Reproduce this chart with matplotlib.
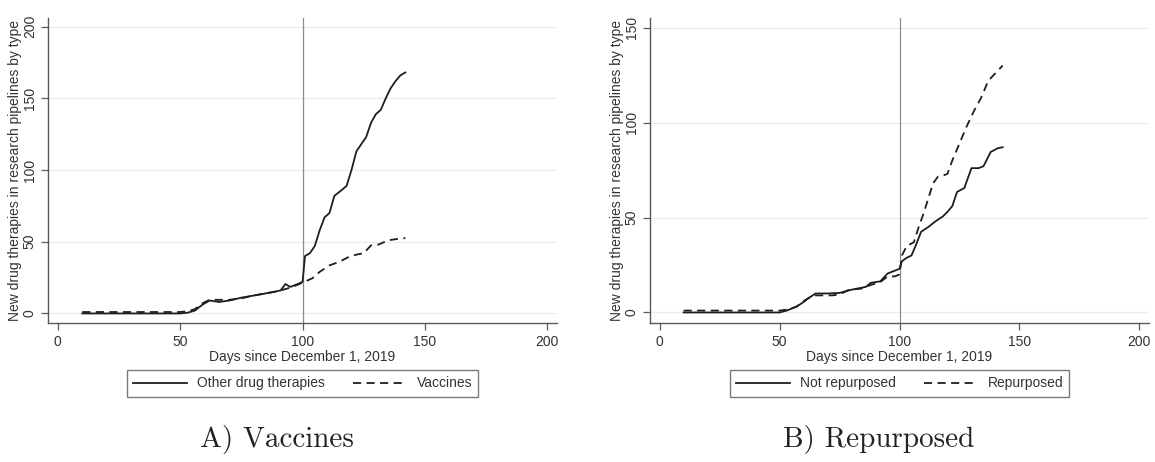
import matplotlib
matplotlib.use("Agg")
import matplotlib.pyplot as plt

# ---------------- data ----------------
# Panel A: Vaccines
other_days = [10, 20, 30, 40, 50, 53, 56, 59, 62, 66, 70, 75, 80, 85, 88, 91, 93, 95, 98, 100,
              101, 103, 105, 107, 109, 111, 113, 116, 118, 120, 122, 124, 126, 128, 130, 132,
              134, 136, 138, 140, 142]
other_vals = [0, 0, 0, 0, 0, 0.5, 2, 6, 9, 8, 9, 11, 12.5, 14, 15, 16, 20.5, 18.5, 20.5, 22,
              40, 42, 47, 58, 67, 70, 82, 86, 89, 100, 113, 118, 123, 133, 139, 142,
              150, 157, 162, 166, 168]
vacc_days = [10, 20, 30, 40, 50, 53, 56, 59, 62, 65, 70, 75, 80, 85, 90, 95, 98, 100, 102, 104,
             107, 111, 115, 119, 122, 125, 128, 131, 135, 139, 142]
vacc_vals = [1, 1, 1, 1, 1, 1.5, 3, 7, 9.5, 9.5, 9.5, 10.5, 12.5, 14, 15.5, 18, 20, 21.5, 23, 24.5,
             29, 33.5, 36, 39.5, 41, 42, 47.5, 48, 51, 52, 52.5]

# Panel B: Repurposed
notrep_days = [10, 20, 30, 40, 50, 53, 57, 60, 62, 65, 70, 75, 80, 86, 88, 92, 95, 97, 100, 101,
               103, 105, 107, 109, 112, 115, 118, 120, 122, 124, 127, 130, 133, 135, 138, 141, 143]
notrep_vals = [0, 0, 0, 0, 0, 1, 3, 5.5, 7.5, 10, 10, 10.3, 12, 13.5, 15.6, 16.4, 20.5, 21.5, 23, 27,
               28.8, 30, 36, 42.5, 45, 48, 50.5, 53, 56, 63.5, 65.5, 76, 76, 77, 84.5, 86.5, 87]
rep_days = [10, 20, 30, 40, 50, 53, 57, 60, 64, 68, 72, 75, 79, 84, 88, 92, 95, 98, 100, 101,
            103, 106, 108, 110, 112, 114, 116, 118, 120, 122, 125, 128, 131, 134, 137, 140, 143]
rep_vals = [1, 1, 1, 1, 1, 1.5, 3, 6, 9, 9, 9, 9.5, 12, 12.5, 14.5, 16, 19, 19, 20, 30,
            35, 37, 45, 52, 60, 68, 71.5, 72, 73, 80, 89, 98, 106, 113, 122, 126, 130]

xticks = [0, 50, 100, 150, 200]
yticks_a = [0, 50, 100, 150, 200]
yticks_b = [0, 50, 100, 150]

xlabel = "Days since December 1, 2019"
ylabel = "New drug therapies in research pipelines by type"

# ---------------- plot ----------------
plt.rcParams['font.family'] = ['Liberation Sans', 'DejaVu Sans']

fig = plt.figure(figsize=(11.55, 4.62), dpi=100)
ax1 = fig.add_axes([0.0416, 0.2998, 0.4407, 0.6623])
ax2 = fig.add_axes([0.5628, 0.2998, 0.4320, 0.6623])

line_c = '#1e1e1e'
axis_c = '#5a5a5a'

def style(ax, yticks, ylim):
    ax.set_xlim(-4, 204)
    ax.set_ylim(*ylim)
    ax.set_xticks(xticks)
    ax.set_yticks(yticks)
    for s in ['top', 'right']:
        ax.spines[s].set_visible(False)
    for s in ['left', 'bottom']:
        ax.spines[s].set_color(axis_c)
        ax.spines[s].set_linewidth(1.0)
    ax.tick_params(axis='both', direction='out', length=5, width=0.9, color=axis_c,
                   labelsize=10, labelcolor='#333333', pad=3)
    for lab in ax.get_yticklabels():
        lab.set_rotation(90)
        lab.set_va('center')
    ax.yaxis.grid(True, color='#ececec', linewidth=0.9)
    ax.set_axisbelow(True)
    ax.axvline(100, color='#8c8c8c', linewidth=0.9, zorder=1)
    ax.set_xlabel(xlabel, fontsize=10, color='#333333', labelpad=1)
    ax.set_ylabel(ylabel, fontsize=10, color='#333333', labelpad=1)

style(ax1, yticks_a, (-7, 206.3))
style(ax2, yticks_b, (-5.8, 155.3))

ax1.plot(other_days, other_vals, color=line_c, lw=1.3, label='Other drug therapies', zorder=3)
ax1.plot(vacc_days, vacc_vals, color=line_c, lw=1.3, ls=(0, (4.5, 3)), label='Vaccines', zorder=3)
ax2.plot(notrep_days, notrep_vals, color=line_c, lw=1.3, label='Not repurposed', zorder=3)
ax2.plot(rep_days, rep_vals, color=line_c, lw=1.3, ls=(0, (4.5, 3)), label='Repurposed', zorder=3)

for ax in (ax1, ax2):
    leg = ax.legend(loc='upper center', bbox_to_anchor=(0.5, -0.13), ncol=2, frameon=True,
                    fancybox=False, edgecolor=axis_c, fontsize=10, handlelength=3.9,
                    columnspacing=2.0, borderpad=0.45, handletextpad=0.7)
    leg.get_frame().set_linewidth(1.0)
    for t in leg.get_texts():
        t.set_color('#333333')

fig.text(0.240, 0.032, "A) Vaccines", fontsize=21, family=['cmr10', 'DejaVu Serif'],
         ha='center', va='baseline', color='#222222')
fig.text(0.761, 0.032, "B) Repurposed", fontsize=21, family=['cmr10', 'DejaVu Serif'],
         ha='center', va='baseline', color='#222222')

fig.savefig('out.png', dpi=100, facecolor='white')
